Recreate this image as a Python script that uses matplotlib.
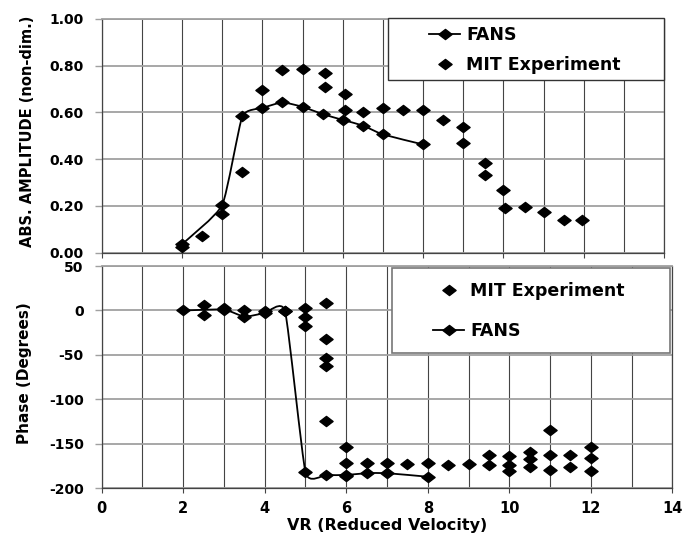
import numpy as np
import matplotlib.pyplot as plt
from matplotlib.path import Path
from matplotlib.patches import PathPatch, Rectangle
from matplotlib.lines import Line2D
from matplotlib.ticker import MultipleLocator

plt.rcParams['axes.unicode_minus'] = False

# amplitude (top panel)
fans_amp_x = [2.0, 3.0, 3.5, 4.0, 4.5, 5.0, 5.5, 6.0, 6.5, 7.0, 8.0]
fans_amp_y = [0.036, 0.203, 0.583, 0.619, 0.643, 0.624, 0.593, 0.568, 0.544, 0.506, 0.463]
mit_amp_x = [2.0, 2.5, 3.0, 3.5, 4.0, 4.5, 5.0, 5.55, 5.55, 6.05, 6.05, 6.5, 7.0, 7.5, 8.0,
             8.5, 9.0, 9.0, 9.55, 9.55, 10.0, 10.05, 10.55, 11.0, 11.5, 11.95]
mit_amp_y = [0.022, 0.072, 0.167, 0.345, 0.694, 0.780, 0.787, 0.768, 0.708, 0.679, 0.612, 0.600,
             0.619, 0.612, 0.612, 0.567, 0.538, 0.471, 0.384, 0.331, 0.266, 0.193, 0.197, 0.173,
             0.140, 0.140]

# phase (bottom panel)
fans_ph_x = [2.0, 3.0, 3.5, 4.0, 4.5, 5.0, 5.5, 6.0, 6.5, 7.0, 8.0]
fans_ph_y = [0, 1, -7, -3, -1, -182, -185, -185, -183, -183, -187]
mit_ph_x = [2.5, 2.5, 3.0, 3.5, 4.0, 4.5, 5.0, 5.0, 5.0, 5.5, 5.5, 5.5, 5.5, 5.5,
            6.0, 6.0, 6.0, 6.5, 7.0, 7.5, 8.0, 8.5, 9.0, 9.5, 9.5,
            10.0, 10.0, 10.0, 10.5, 10.5, 10.5, 11.0, 11.0, 11.0, 11.5, 11.5, 12.0, 12.0, 12.0]
mit_ph_y = [6, -5, 3, 1, -1, -1, 3, -7, -17, 8, -32, -54, -63, -124,
            -154, -171, -186, -171, -172, -173, -171, -174, -173, -163, -174,
            -164, -174, -181, -159, -167, -176, -134, -163, -179, -163, -176, -153, -166, -181]

W, H = 686, 537
FONT = 'DejaVu Sans'
diamond = Path([(-1.3, 0), (0, 1), (1.3, 0), (0, -1), (-1.3, 0)],
               [Path.MOVETO, Path.LINETO, Path.LINETO, Path.LINETO, Path.CLOSEPOLY])
MS = 9.5


def smooth_path(xs, ys, k=0.08):
    # excel style smoothed line (cubic bezier through the points)
    p = np.column_stack([xs, ys]).astype(float)
    n = len(p)
    verts = [p[0]]
    codes = [Path.MOVETO]
    for i in range(n - 1):
        p0 = p[i - 1] if i > 0 else p[i]
        p3 = p[i + 2] if i + 2 < n else p[i + 1]
        c1 = p[i] + (p[i + 1] - p0) * k
        c2 = p[i + 1] - (p3 - p[i]) * k
        verts += [c1, c2, p[i + 1]]
        codes += [Path.CURVE4] * 3
    return Path(verts, codes)


def style_axes(ax):
    ax.set_xlim(0, 14)
    ax.xaxis.set_major_locator(MultipleLocator(2))
    ax.xaxis.set_minor_locator(MultipleLocator(1))
    ax.grid(True, axis='x', which='both', color='#444444', lw=0.8)
    ax.grid(True, axis='y', which='major', color='#a0a0a0', lw=1.3)
    ax.set_axisbelow(True)
    ax.tick_params(axis='x', which='major', direction='out', length=3.5, width=0.8,
                   color='#444444', pad=6, labelsize=10.5)
    ax.tick_params(axis='x', which='minor', length=0)
    ax.tick_params(axis='y', direction='out', length=5, width=1.0, color='#a0a0a0',
                   pad=8, labelsize=10)
    for lab in ax.get_xticklabels() + ax.get_yticklabels():
        lab.set_fontweight('bold')
        lab.set_family(FONT)
    for s in ['left', 'bottom', 'right']:
        ax.spines[s].set_color('#444444')
        ax.spines[s].set_linewidth(0.9)
    ax.spines['top'].set_color('#a0a0a0')
    ax.spines['top'].set_linewidth(1.3)


fig = plt.figure(figsize=(W / 100, H / 100), dpi=100)
ax1 = fig.add_axes([101.7 / W, 1 - 252.6 / H, 562.3 / W, 233.6 / H])
ax2 = fig.add_axes([101.7 / W, 1 - 488.3 / H, 570.6 / W, 222.3 / H])

# top panel
ax1.add_patch(PathPatch(smooth_path(fans_amp_x, fans_amp_y), fill=False, color='black', lw=1.3, zorder=3))
ax1.plot(fans_amp_x, fans_amp_y, linestyle='none', marker=diamond, ms=MS, color='black', zorder=4)
ax1.plot(mit_amp_x, mit_amp_y, linestyle='none', marker=diamond, ms=MS, color='black', zorder=4)
ax1.set_ylim(0, 1.0)
ax1.yaxis.set_major_locator(MultipleLocator(0.2))
ax1.yaxis.set_major_formatter('{x:.2f}')
style_axes(ax1)
ax1.tick_params(axis='x', labelbottom=False)
ax1.set_ylabel('ABS. AMPLITUDE (non-dim.)', fontsize=10.5, fontweight='bold', family=FONT)
ax1.yaxis.set_label_coords(-0.1186, 0.52)

# bottom panel
ax2.add_patch(PathPatch(smooth_path(fans_ph_x, fans_ph_y), fill=False, color='black', lw=1.3, zorder=3))
ax2.plot(fans_ph_x, fans_ph_y, linestyle='none', marker=diamond, ms=MS, color='black', zorder=4)
ax2.plot(mit_ph_x, mit_ph_y, linestyle='none', marker=diamond, ms=MS, color='black', zorder=4)
ax2.set_ylim(-200, 50)
ax2.yaxis.set_major_locator(MultipleLocator(50))
style_axes(ax2)
ax2.set_ylabel('Phase (Degrees)', fontsize=11, fontweight='bold', family=FONT)
ax2.yaxis.set_label_coords(-0.123, 0.516)
ax2.set_xlabel('VR (Reduced Velocity)', fontsize=11.5, fontweight='bold', family=FONT, labelpad=1)

# legends
fans_h = Line2D([], [], color='black', lw=1.3, marker=diamond, ms=MS)
mit_h = Line2D([], [], color='black', linestyle='none', marker=diamond, ms=MS)
leg_font = {'family': FONT, 'weight': 'bold', 'size': 12.5}

fig.add_artist(Rectangle((387.7 / W, 1 - 80 / H), (664 - 387.7) / W, (80 - 18.3) / H,
                         transform=fig.transFigure, facecolor='white', edgecolor='#333333', lw=1.0, zorder=2))
fig.legend([fans_h, mit_h], ['FANS', 'MIT Experiment'], loc='center left',
           bbox_to_anchor=(429 / W, 1 - 50 / H), frameon=False, borderpad=0, borderaxespad=0,
           handlelength=1.8, handletextpad=0.35, labelspacing=0.65, numpoints=1, prop=leg_font)

fig.add_artist(Rectangle((392.3 / W, 1 - 353.3 / H), (670 - 392.3) / W, (353.3 - 267.7) / H,
                         transform=fig.transFigure, facecolor='white', edgecolor='#777777', lw=1.2, zorder=2))
fig.legend([mit_h, fans_h], ['MIT Experiment', 'FANS'], loc='center left',
           bbox_to_anchor=(433 / W, 1 - 310.9 / H), frameon=False, borderpad=0, borderaxespad=0,
           handlelength=1.8, handletextpad=0.35, labelspacing=1.25, numpoints=1, prop=leg_font)

fig.savefig('out.png', dpi=100)
